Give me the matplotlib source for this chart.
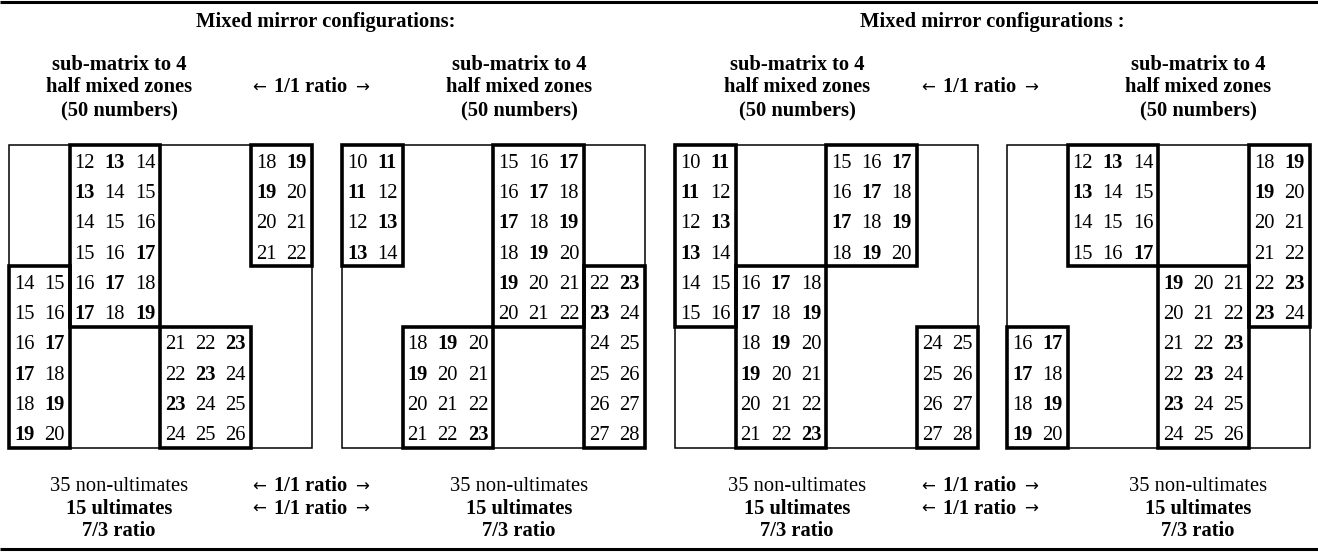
import matplotlib.pyplot as plt
from matplotlib.patches import Rectangle

plt.rcParams['font.family'] = ['Liberation Serif', 'DejaVu Serif']

# base 10x10 matrix (same in all four panels)
matrix = [
    [10, 11, 12, 13, 14, 15, 16, 17, 18, 19],
    [11, 12, 13, 14, 15, 16, 17, 18, 19, 20],
    [12, 13, 14, 15, 16, 17, 18, 19, 20, 21],
    [13, 14, 15, 16, 17, 18, 19, 20, 21, 22],
    [14, 15, 16, 17, 18, 19, 20, 21, 22, 23],
    [15, 16, 17, 18, 19, 20, 21, 22, 23, 24],
    [16, 17, 18, 19, 20, 21, 22, 23, 24, 25],
    [17, 18, 19, 20, 21, 22, 23, 24, 25, 26],
    [18, 19, 20, 21, 22, 23, 24, 25, 26, 27],
    [19, 20, 21, 22, 23, 24, 25, 26, 27, 28],
]
ultimates = [11, 13, 17, 19, 23]

# zones shown in each panel: (first col, last col + 1, first row, last row + 1)
zones_1 = [(2, 5, 0, 6), (8, 10, 0, 4), (0, 2, 4, 10), (5, 8, 6, 10)]
zones_2 = [(0, 2, 0, 4), (5, 8, 0, 6), (8, 10, 4, 10), (2, 5, 6, 10)]
zones_3 = [(0, 2, 0, 6), (5, 8, 0, 4), (2, 5, 4, 10), (8, 10, 6, 10)]
zones_4 = [(2, 5, 0, 4), (8, 10, 0, 6), (5, 8, 4, 10), (0, 2, 6, 10)]
panels = [zones_1, zones_2, zones_3, zones_4]

titles = ["Mixed mirror configurations:", "Mixed mirror configurations :"]
head_lines = ["sub-matrix to 4", "half mixed zones", "(50 numbers)"]
foot_lines = ["35 non-ultimates", "15 ultimates", "7/3 ratio"]
ratio_label = "1/1 ratio"

fig = plt.figure(figsize=(13.18, 5.52), dpi=100)
ax = fig.add_axes([0, 0, 1, 1])
ax.set_xlim(0, 1318)
ax.set_ylim(552, 0)
ax.axis('off')

fs = 14.8
lefts = [9, 342, 675, 1007]
cw = 30.25
rh = 30.25
top = 145

for left, zones in zip(lefts, panels):
    # outer thin frame
    ax.add_patch(Rectangle((left, top), 10 * cw, 10 * rh, fill=False, lw=1.1, ec='black'))
    for c0, c1, r0, r1 in zones:
        for r in range(r0, r1):
            for c in range(c0, c1):
                v = matrix[r][c]
                ax.text(left + (c + 0.5) * cw, top + (r + 0.76) * rh, str(v),
                        ha='center', va='baseline', fontsize=fs,
                        fontweight='bold' if v in ultimates else 'normal')
    for c0, c1, r0, r1 in zones:
        ax.add_patch(Rectangle((left + c0 * cw, top + r0 * rh), (c1 - c0) * cw, (r1 - r0) * rh,
                               fill=False, lw=2.6, ec='black', joinstyle='miter'))

# header / footer columns
head_x = [119, 519, 797, 1198]
arrow_x = [310, 979]
title_x = [326, 992]

for t, x in zip(titles, title_x):
    ax.text(x, 27, t, ha='center', va='baseline', fontsize=fs, fontweight='bold')

for x in head_x:
    for i, s in enumerate(head_lines):
        ax.text(x, 70 + i * 22.5, s, ha='center', va='baseline', fontsize=fs, fontweight='bold')
    for i, s in enumerate(foot_lines):
        ax.text(x, 491 + i * 22.5, s, ha='center', va='baseline', fontsize=fs,
                fontweight='normal' if i == 0 else 'bold')


def ratio(x, y):
    ax.text(x + 1, y, ratio_label, ha='center', va='baseline', fontsize=fs, fontweight='bold')
    ax.text(x - 51, y - 4.5, "\u2190", ha='center', va='center', fontsize=12,
            family=['DejaVu Sans'])
    ax.text(x + 52, y - 4.5, "\u2192", ha='center', va='center', fontsize=12,
            family=['DejaVu Sans'])


for x in arrow_x:
    ratio(x, 92.5)
    ratio(x, 491)
    ratio(x, 513.5)

# top and bottom rules
ax.plot([0, 1318], [1.5, 1.5], color='black', lw=2.2, solid_capstyle='butt')
ax.plot([0, 1318], [548.5, 548.5], color='black', lw=2.2, solid_capstyle='butt')

fig.savefig('out.png', dpi=100)
